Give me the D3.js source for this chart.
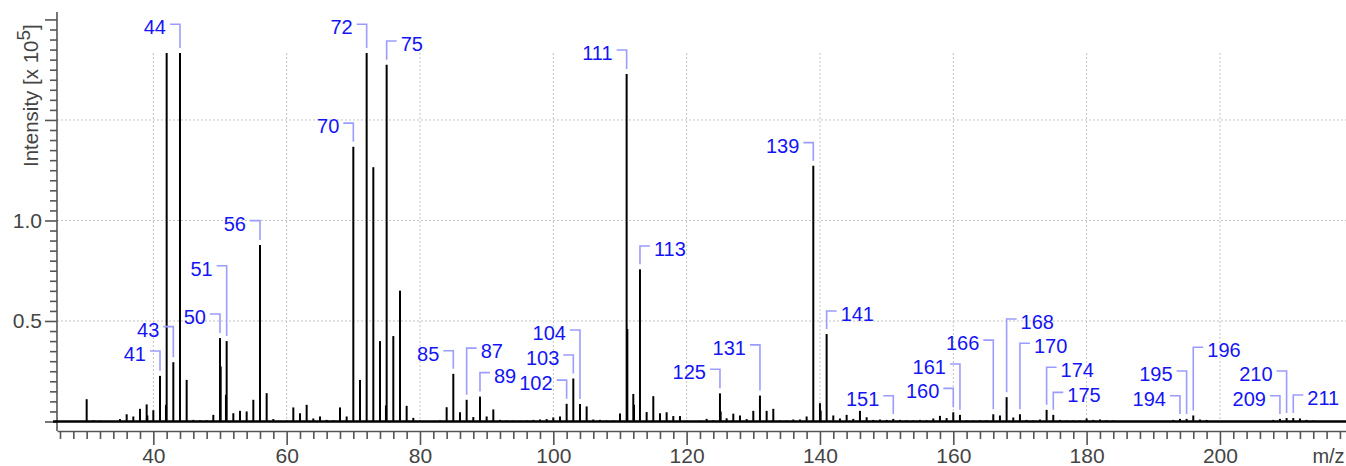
<!DOCTYPE html>
<html>
<head>
<meta charset="utf-8">
<script src="https://cdn.jsdelivr.net/npm/d3@7"></script>
<style>
  body { margin: 0; background: #fff; }
  svg { display: block; font-family: "Liberation Sans", Arial, sans-serif; }
</style>
</head>
<body>
<div id="chart"></div>
<script>
// Peak list: m/z and intensity (x 10^5)
const mz = [
  30, 31, 32, 35, 36, 37, 38, 39, 39.15, 40, 41, 41.85, 42, 43, 44, 45, 46, 47, 48, 49,
  50, 50.15, 50.85, 51, 52, 53, 54, 55, 56, 57, 58, 59, 60, 61, 62, 63, 64, 65, 66, 67,
  68, 69, 70, 71, 72, 73, 74, 74.85, 75, 76, 77, 78, 79, 80, 83, 84, 85, 86, 87, 88,
  89, 90, 91, 92, 93, 94, 95, 96, 97, 98, 99, 100, 101, 102, 103, 104, 105, 106, 107, 108,
  109, 110, 111, 111.15, 112, 112.15, 113, 114, 115, 116, 117, 118, 119, 120, 122, 123, 124, 125, 125.15, 126,
  127, 128, 129, 130, 131, 132, 133, 134, 135, 136, 137, 138, 139, 140, 140.15, 141, 142, 143, 144, 145,
  146, 147, 148, 149, 150, 151, 152, 153, 154, 155, 156, 157, 158, 159, 160, 161, 162, 163, 164, 165,
  166, 167, 168, 169, 170, 171, 172, 173, 174, 175, 176, 177, 178, 179, 180, 181, 182, 183, 184, 193,
  194, 195, 196, 197, 198, 208, 209, 210, 211, 212, 213, 214
];
const intensity = [
  0.111, 0.006, 0.004, 0.012, 0.036, 0.025, 0.063, 0.085, 0.030, 0.056, 0.227, 0.083, 1.833, 0.295, 1.833, 0.207, 0.008, 0.006, 0.006, 0.033,
  0.415, 0.274, 0.133, 0.400, 0.041, 0.053, 0.050, 0.108, 0.878, 0.141, 0.012, 0.003, 0.005, 0.070, 0.041, 0.083, 0.015, 0.025, 0.008, 0.006,
  0.070, 0.025, 1.367, 0.207, 1.833, 1.265, 0.400, 0.080, 1.774, 0.425, 0.651, 0.078, 0.018, 0.005, 0.005, 0.071, 0.237, 0.046, 0.108, 0.022,
  0.124, 0.025, 0.060, 0.008, 0.005, 0.004, 0.004, 0.005, 0.008, 0.010, 0.012, 0.020, 0.025, 0.088, 0.214, 0.087, 0.075, 0.010, 0.008, 0.005,
  0.005, 0.040, 1.729, 0.460, 0.137, 0.083, 0.757, 0.047, 0.126, 0.041, 0.046, 0.027, 0.027, 0.004, 0.004, 0.013, 0.006, 0.140, 0.050, 0.016,
  0.039, 0.030, 0.012, 0.053, 0.129, 0.053, 0.063, 0.005, 0.005, 0.010, 0.010, 0.025, 1.272, 0.091, 0.055, 0.435, 0.030, 0.015, 0.033, 0.013,
  0.053, 0.021, 0.008, 0.010, 0.008, 0.013, 0.008, 0.006, 0.006, 0.008, 0.006, 0.015, 0.028, 0.017, 0.046, 0.033, 0.005, 0.005, 0.006, 0.006,
  0.036, 0.030, 0.121, 0.020, 0.036, 0.008, 0.005, 0.010, 0.058, 0.033, 0.008, 0.005, 0.005, 0.005, 0.015, 0.008, 0.010, 0.006, 0.005, 0.008,
  0.013, 0.013, 0.030, 0.010, 0.008, 0.008, 0.013, 0.017, 0.017, 0.015, 0.008, 0.005
];

// Annotated peaks: which side the label sits on and at what intensity level
const labelMz    = [44, 72, 75, 70, 56, 51, 50, 43, 41, 85, 87, 89, 104, 103, 102, 111, 113, 139,
                    141, 125, 131, 151, 160, 161, 166, 168, 170, 174, 175, 194, 195, 196, 209, 210, 211];
const labelSide  = ["l", "l", "r", "l", "l", "l", "l", "l", "l", "l", "r", "r", "l", "l", "l", "l", "r", "l",
                    "r", "l", "l", "l", "l", "l", "l", "r", "r", "r", "r", "l", "l", "r", "l", "l", "r"];
const labelLevel = [1.976, 1.976, 1.893, 1.484, 0.999, 0.775, 0.535, 0.472, 0.351, 0.352, 0.365, 0.243, 0.455, 0.331, 0.206, 1.848, 0.873, 1.387,
                    0.550, 0.260, 0.381, 0.128, 0.165, 0.286, 0.405, 0.510, 0.389, 0.270, 0.145, 0.128, 0.251, 0.369, 0.128, 0.251, 0.132];

// Axis ticks
const xTickLabels = [40, 60, 80, 100, 120, 140, 160, 180, 200];
const yTickLabels = [0.5, 1.0];
const xGrid = [40, 60, 80, 100, 120, 140, 160, 180, 200];
const yGrid = [0.5, 1.0, 1.5];

const width = 1346, height = 466;
const axisY = 431;

const x = d3.scaleLinear().domain([25.55, 219]).range([57, 1346.6]);
const y = d3.scaleLinear().domain([0, 2.037]).range([421.5, 12]);
const gridTop = y(1.833);

const svg = d3.select("#chart").append("svg")
  .attr("width", width)
  .attr("height", height);

// grid lines
svg.append("g").selectAll("line").data(xGrid).join("line")
  .attr("x1", d => x(d)).attr("x2", d => x(d))
  .attr("y1", gridTop).attr("y2", y(0))
  .attr("stroke", "#c4c4c4").attr("stroke-width", 1).attr("stroke-dasharray", "2,2");
svg.append("g").selectAll("line").data(yGrid).join("line")
  .attr("x1", x.range()[0]).attr("x2", x.range()[1])
  .attr("y1", d => y(d)).attr("y2", d => y(d))
  .attr("stroke", "#c4c4c4").attr("stroke-width", 1).attr("stroke-dasharray", "2,2");

// x axis
const xTicks = d3.range(26, 219, 2);
const xAxis = d3.axisBottom(x)
  .tickValues(xTicks)
  .tickSizeOuter(0)
  .tickFormat(d => xTickLabels.includes(d) ? d : "");
const gx = svg.append("g")
  .attr("transform", `translate(0,${axisY})`)
  .call(xAxis);
gx.select(".domain").attr("stroke", "#555").attr("stroke-width", 1.6);
gx.selectAll(".tick line")
  .attr("stroke", "#555").attr("stroke-width", 1.6)
  .attr("y2", d => d % 20 === 0 ? 14 : 8);
gx.selectAll(".tick text")
  .attr("y", 32).attr("dy", 0)
  .attr("fill", "#444").style("font-size", "21px");

// y axis
const yTicks = d3.range(0, 41).map(i => +(i * 0.05).toFixed(2));
const yAxis = d3.axisLeft(y)
  .tickValues(yTicks)
  .tickSizeOuter(0)
  .tickFormat(d => yTickLabels.includes(d) ? d3.format(".1f")(d) : "");
const gy = svg.append("g")
  .attr("transform", `translate(${x.range()[0]},0)`)
  .call(yAxis);
gy.select(".domain").remove();
gy.append("line")
  .attr("x1", 0).attr("x2", 0)
  .attr("y1", y.range()[1]).attr("y2", axisY)
  .attr("stroke", "#555").attr("stroke-width", 1.6);
gy.selectAll(".tick line")
  .attr("stroke", "#555").attr("stroke-width", 1.6)
  .attr("x2", d => (Math.round(d * 100) % 50 === 0) ? -12 : -7);
gy.selectAll(".tick text")
  .attr("x", -15)
  .attr("fill", "#444").style("font-size", "21px");

// y axis title
const title = svg.append("text")
  .attr("transform", "translate(38,167) rotate(-90)")
  .attr("fill", "#444")
  .style("font-size", "20.5px");
title.append("tspan").text("Intensity [x 10");
title.append("tspan").attr("dy", -8).style("font-size", "19px").text("5");
title.append("tspan").attr("dy", 8).text("]");

// x axis title
svg.append("text")
  .attr("x", x.range()[1] - 2).attr("y", 463)
  .attr("text-anchor", "end")
  .attr("fill", "#444")
  .style("font-size", "20px")
  .text("m/z");

// baseline
svg.append("line")
  .attr("x1", x.range()[0] - 4).attr("x2", x.range()[1])
  .attr("y1", y(0)).attr("y2", y(0))
  .attr("stroke", "#000").attr("stroke-width", 2.6);

// peaks
const peaks = mz.map((m, i) => ({mz: m, v: intensity[i]}));
svg.append("g").selectAll("line").data(peaks).join("line")
  .attr("x1", d => x(d.mz)).attr("x2", d => x(d.mz))
  .attr("y1", y(0)).attr("y2", d => y(d.v))
  .attr("stroke", "#000")
  .attr("stroke-width", d => Number.isInteger(d.mz) ? 2 : 1.4);

// labels with leader lines
const labels = labelMz.map((m, i) => ({
  mz: m, side: labelSide[i], level: labelLevel[i],
  v: intensity[mz.indexOf(m)]
}));
const lg = svg.append("g");
lg.selectAll("path").data(labels).join("path")
  .attr("d", d => {
    const px = x(d.mz), ly = y(d.level);
    const bottom = Math.min(y(d.v) - 5, y(0) - 7);
    const hx = d.side === "l" ? px - 10 : px + 10;
    return `M${hx},${ly}H${px}V${bottom}`;
  })
  .attr("fill", "none")
  .attr("stroke", "#9c9cff")
  .attr("stroke-width", 1.6);
lg.selectAll("text").data(labels).join("text")
  .attr("x", d => d.side === "l" ? x(d.mz) - 14 : x(d.mz) + 14)
  .attr("y", d => y(d.level) + 10)
  .attr("text-anchor", d => d.side === "l" ? "end" : "start")
  .attr("fill", "#1414f5")
  .style("font-size", "20px")
  .text(d => d.mz);
</script>
</body>
</html>
